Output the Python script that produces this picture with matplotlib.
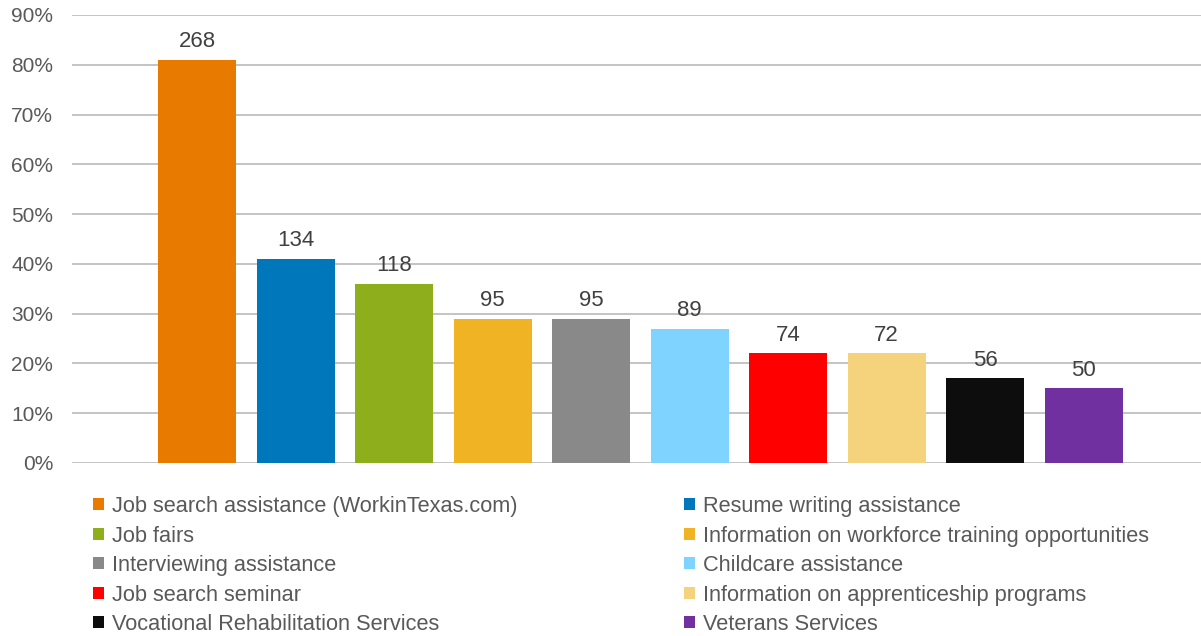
import matplotlib.pyplot as plt
from matplotlib.patches import Patch
from matplotlib.ticker import PercentFormatter

plt.rcParams['font.family'] = ['Liberation Sans', 'DejaVu Sans']

# data
services = ['Job search assistance (WorkinTexas.com)', 'Resume writing assistance',
            'Job fairs', 'Information on workforce training opportunities',
            'Interviewing assistance', 'Childcare assistance',
            'Job search seminar', 'Information on apprenticeship programs',
            'Vocational Rehabilitation Services', 'Veterans Services']
pct = [81, 41, 36, 29, 29, 27, 22, 22, 17, 15]
counts = [268, 134, 118, 95, 95, 89, 74, 72, 56, 50]
colors = ['#E87A00', '#0077BB', '#8FAE1B', '#F0B323', '#898989',
          '#7FD3FF', '#FF0000', '#F5D37D', '#0D0D0D', '#7030A0']

txt = '#595959'
W, H = 1201, 636
fig = plt.figure(figsize=(W / 100, H / 100), dpi=100)
ax = fig.add_axes([72 / W, 1 - 463 / H, (W - 72) / W, (463 - 15) / H])

x = list(range(1, len(pct) + 1))
ax.bar(x, pct, width=0.79, color=colors, zorder=3)
for xi, p, c in zip(x, pct, counts):
    ax.text(xi, p + 1.5, str(c), ha='center', va='bottom', fontsize=16, color='#404040')

ax.set_ylim(0, 90)
ax.set_xlim(-0.27, 11.19)
ax.set_yticks(range(0, 91, 10))
ax.yaxis.set_major_formatter(PercentFormatter(decimals=0))
ax.tick_params(axis='y', length=0, pad=13.5, labelsize=15, labelcolor=txt)
ax.set_xticks([])
ax.grid(axis='y', color='#BFBFBF', linewidth=1.3, zorder=0)
for s in ax.spines.values():
    s.set_visible(False)

# legend in two columns, row-major order like the original
handles = [Patch(facecolor=c, edgecolor='none') for c in colors]
for col, x0 in [(0, 93), (1, 684)]:
    idx = list(range(col, len(services), 2))
    fig.legend([handles[i] for i in idx], [services[i] for i in idx],
               loc='upper left', bbox_to_anchor=(x0 / W, 1 - 496 / H),
               frameon=False, fontsize=15.7, labelcolor=txt,
               handlelength=0.5, handleheight=0.5, handletextpad=0.35,
               labelspacing=0.39, borderpad=0, borderaxespad=0)

fig.savefig('out.png', dpi=100)
